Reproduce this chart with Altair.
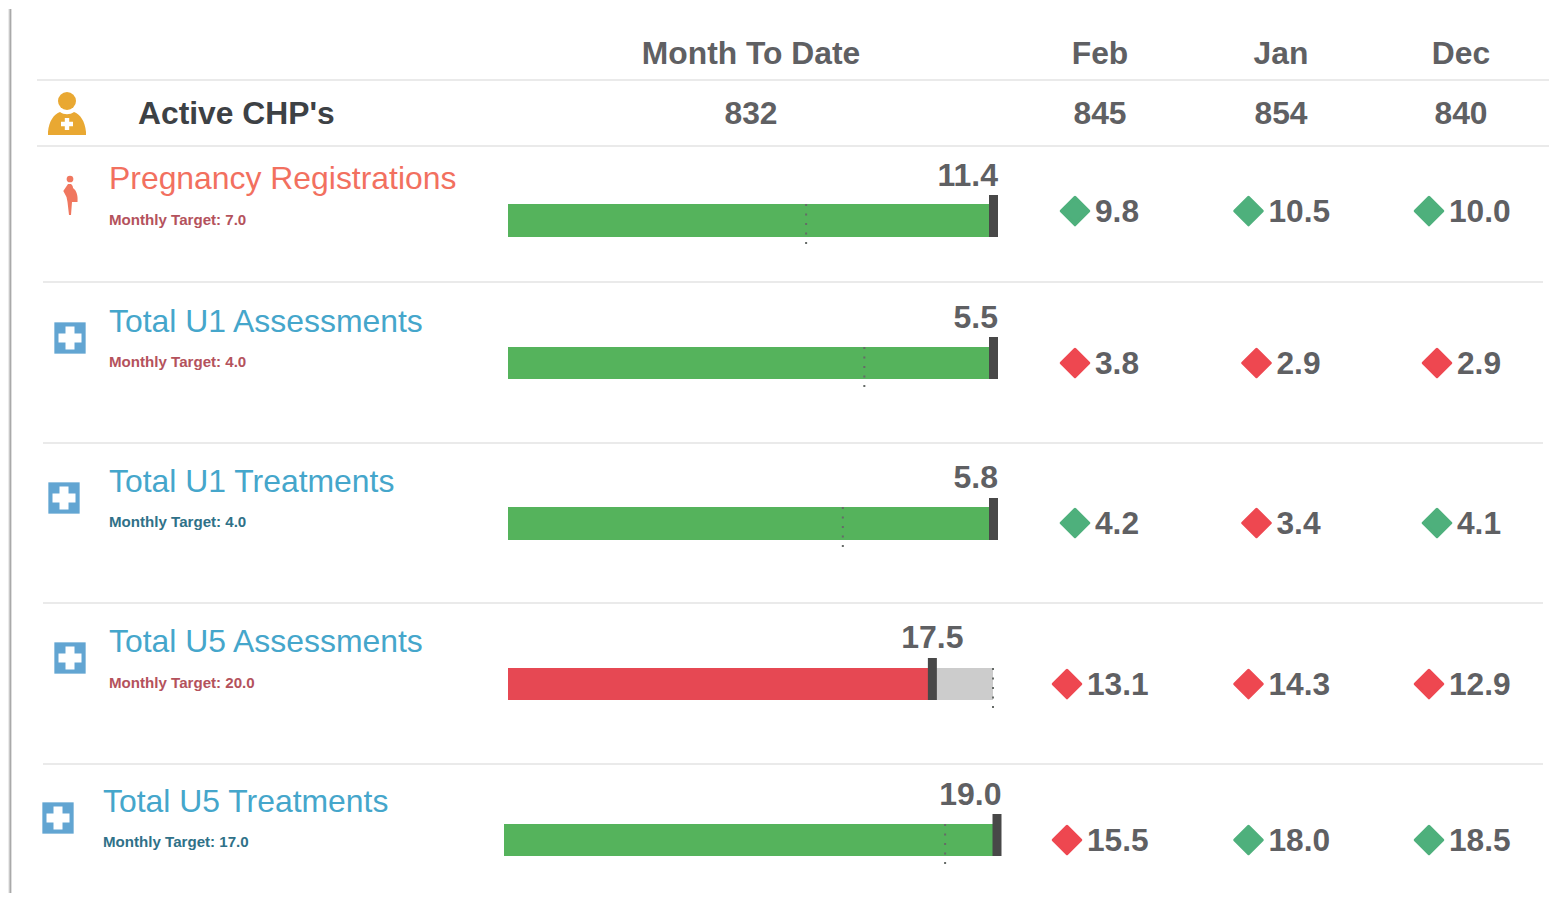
import altair as alt
import pandas as pd

# ---- values ----
header_months = ["Feb", "Jan", "Dec"]
active_label = "Active CHP's"
active_mtd = 832
active_months = [845, 854, 840]
indicators = ["Pregnancy Registrations", "Total U1 Assessments", "Total U1 Treatments",
              "Total U5 Assessments", "Total U5 Treatments"]
targets = [7.0, 4.0, 4.0, 20.0, 17.0]
month_to_date = [11.4, 5.45, 5.8, 17.5, 19.0]
feb_values = [9.8, 3.8, 4.2, 13.1, 15.5]
jan_values = [10.5, 2.9, 3.4, 14.3, 18.0]
dec_values = [10.0, 2.9, 4.1, 12.9, 18.5]

# ---- layout ----
X_DOM = [8, 1559]
Y_DOM = [893, 9]
FONT = "Liberation Sans"
GREY = "#5f6063"
GREEN, RED = "#55b35c", "#e64853"
DIA_GREEN, DIA_RED = "#4eb07c", "#ee4750"
TITLE_COLORS = ["#f2705f", "#45a6cb", "#45a6cb", "#45a6cb", "#45a6cb"]
TARGET_COLORS = ["#b4525c", "#b4525c", "#2f7188", "#b4525c", "#2f7188"]
TITLE_X = [109, 109, 109, 109, 103]
TITLE_Y = [189, 332, 492, 652, 812]
TARGET_Y = [225, 367, 527, 688, 847]
BAR_LEFT = [508, 508, 508, 508, 504]
BAR_RIGHT = [993.5, 993.5, 993.5, 993, 997]
BAR_TOP = [204, 347, 507, 668, 824]
BAR_BOTTOM = [237, 379, 540, 700, 856]
TICK_TOP = [195, 337, 498, 658, 814]
DOT_BOTTOM = [247, 389, 550, 710, 865]
VALUE_Y = [186, 328, 488, 648, 805]
MONTH_Y = [222, 374, 534, 695, 851]
DIAMOND_Y = [211, 363, 523, 684, 840]
COL_X = [1100, 1281, 1461]
MONTH_COL_X = [1100, 1281.5, 1462]
ICON_X = [70, 64, 70, 58]
ICON_Y = [338, 498, 658, 818]


def X(field="x"):
    return alt.X(f"{field}:Q", scale=alt.Scale(domain=X_DOM), axis=None)


def Y(field="y"):
    return alt.Y(f"{field}:Q", scale=alt.Scale(domain=Y_DOM), axis=None)


def texts(rows, size, color, bold=True, align="left"):
    df = pd.DataFrame(rows, columns=["x", "y", "t"])
    return alt.Chart(df).mark_text(font=FONT, fontSize=size, color=color, align=align,
                                   baseline="alphabetic",
                                   fontWeight="bold" if bold else "normal").encode(
        x=X(), y=Y(), text="t:N")


def hrules(rows, color="#e3e3e3", width=1.6):
    df = pd.DataFrame(rows, columns=["x", "x2", "y"])
    return alt.Chart(df).mark_rule(color=color, strokeWidth=width).encode(
        x=X(), x2="x2:Q", y=Y())


def shapes(rows, shape, size, color, **kw):
    df = pd.DataFrame(rows, columns=["x", "y"])
    return alt.Chart(df).mark_point(shape=shape, size=size, filled=True, color=color,
                                    opacity=1, **kw).encode(x=X(), y=Y())


layers = []

# panel shadow on the left edge
for sx, c, w in [(8.5, "#ececec", 1), (9.5, "#c9c9c9", 1), (10.5, "#a9a9a9", 1), (11.5, "#dedede", 1)]:
    layers.append(alt.Chart(pd.DataFrame({"x": [sx], "y": [9], "y2": [893]}))
                  .mark_rule(color=c, strokeWidth=w).encode(x=X(), y=Y(), y2="y2:Q"))

# separators
layers.append(hrules([(37, 1549, 80), (37, 1549, 146), (43, 1543, 282),
                      (43, 1543, 443), (43, 1543, 603), (43, 1543, 764)]))

# header
layers.append(texts([(751, 64, "Month To Date")] +
                    [(c, 64, m) for c, m in zip(COL_X, header_months)],
                    31.8, GREY, align="center"))
layers.append(texts([(138, 124, active_label)], 31.8, "#3d4145"))
layers.append(texts([(751, 124, str(active_mtd))] +
                    [(c, 124, str(v)) for c, v in zip(COL_X, active_months)],
                    31.8, GREY, align="center"))

# icons
PERSON = "M-19,11 L-19,8 C-18,-3 -13,-10 -7,-12 C-3,-9 3,-9 7,-12 C13,-10 18,-3 19,8 L19,11 Z"
PLUS_SMALL = "M-2.2,-6 H2.2 V-2.2 H6 V2.2 H2.2 V6 H-2.2 V2.2 H-6 V-2.2 H-2.2 Z"
PLUS_BIG = "M-4.5,-11.5 H4.5 V-4.5 H11.5 V4.5 H4.5 V11.5 H-4.5 V4.5 H-11.5 V-4.5 H-4.5 Z"
MOTHER = "M-2,-11 L1,-11 C3,-9 3,-8 3,-7 C7,-4 8,1 7.5,7 L2,7 L1,20 L-1,20 L-2.5,7 L-3.5,2 L-6.7,-4 Z"
ORANGE = "#e9a832"
layers.append(shapes([(67, 101)], "circle", 324, ORANGE))
layers.append(shapes([(67, 124)], PERSON, 4, ORANGE))
layers.append(shapes([(67, 124)], PLUS_SMALL, 4, "#ffffff"))
layers.append(shapes([(70, 179)], "circle", 45, "#f0775f"))
layers.append(shapes([(70, 195)], MOTHER, 4, "#f0775f"))
layers.append(shapes(list(zip(ICON_X, ICON_Y)), "square", 980, "#62a5d2"))
layers.append(shapes(list(zip(ICON_X, ICON_Y)), PLUS_BIG, 4, "#ffffff"))

# indicator rows
for i, name in enumerate(indicators):
    layers.append(texts([(TITLE_X[i], TITLE_Y[i], name)], 31.9, TITLE_COLORS[i], bold=False))
    layers.append(texts([(TITLE_X[i], TARGET_Y[i], f"Monthly Target: {targets[i]:.1f}")],
                        15.1, TARGET_COLORS[i]))

    top = max(month_to_date[i], targets[i])
    bullet_x = alt.Scale(domain=[0, top],
                         range=[BAR_LEFT[i] - X_DOM[0], BAR_RIGHT[i] - X_DOM[0]])
    row = pd.DataFrame({"zero": [0], "value": [month_to_date[i]], "target": [targets[i]],
                        "top": [top], "label": [f"{month_to_date[i]:.1f}"],
                        "y": [BAR_TOP[i]], "y2": [BAR_BOTTOM[i]], "tick": [TICK_TOP[i]],
                        "dot": [DOT_BOTTOM[i]], "ly": [VALUE_Y[i]]})
    base = alt.Chart(row)
    met = month_to_date[i] >= targets[i]
    bullet = alt.layer(
        base.mark_rect(color="#cccccc").encode(
            x=alt.X("zero:Q", scale=bullet_x, axis=None), x2="top:Q", y=Y(), y2="y2:Q"),
        base.mark_rect(color=GREEN if met else RED).encode(
            x=alt.X("zero:Q", scale=bullet_x, axis=None), x2="value:Q", y=Y(), y2="y2:Q"),
        base.mark_rule(color="#666b68", strokeWidth=2, strokeDash=[2, 7.5]).encode(
            x=alt.X("target:Q", scale=bullet_x, axis=None), y=Y(), y2="dot:Q"),
        base.mark_rule(color="#484848", strokeWidth=9).encode(
            x=alt.X("value:Q", scale=bullet_x, axis=None), y=Y("tick"), y2="y2:Q"),
        base.mark_text(font=FONT, fontSize=32, fontWeight="bold", color=GREY, baseline="alphabetic",
                       align="right" if met else "center", dx=4.5 if met else 0).encode(
            x=alt.X("value:Q", scale=bullet_x, axis=None), y=Y("ly"), text="label:N"),
    )
    layers.append(bullet)

    # previous months: diamond and value, centred together on the column
    for cx, vals in zip(MONTH_COL_X, [feb_values, jan_values, dec_values]):
        v = vals[i]
        s = f"{v:.1f}"
        half = 33 if len(s) == 4 else 25
        dcolor = DIA_GREEN if v >= targets[i] else DIA_RED
        layers.append(shapes([(cx - half, DIAMOND_Y[i])], "diamond", 760, dcolor,
                             stroke=dcolor, strokeWidth=3, strokeJoin="round"))
        layers.append(texts([(cx - half + 20, MONTH_Y[i], s)], 31.7, GREY))

chart = (alt.layer(*layers)
         .resolve_scale(x="independent")
         .properties(width=1551, height=884, padding=0, background="#ffffff")
         .configure_view(stroke=None))

chart.save("out.html", embed_options={"renderer": "svg", "actions": False})
